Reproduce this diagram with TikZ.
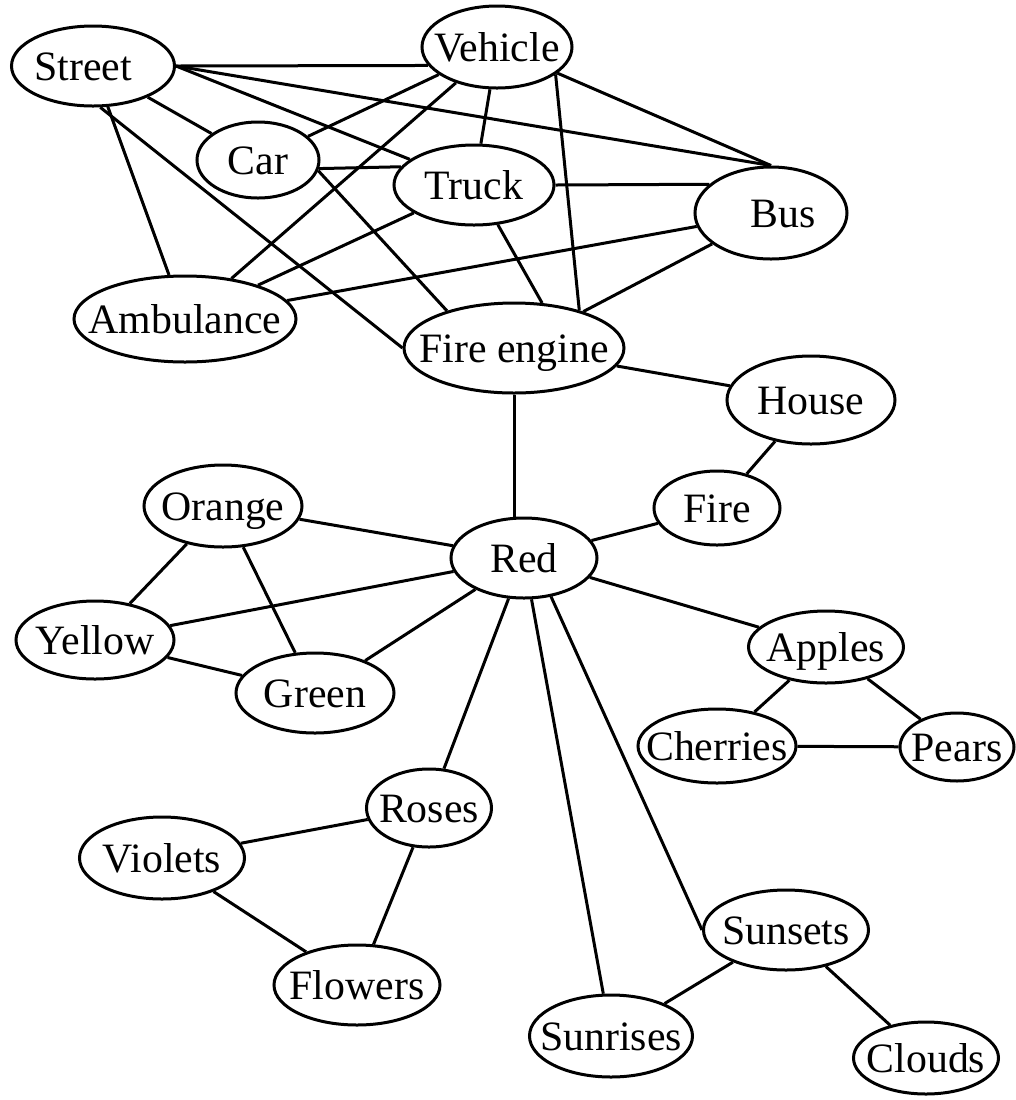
\documentclass[tikz,border=0pt]{standalone}
\usepackage{fontspec}
\setmainfont{Liberation Serif}
\usetikzlibrary{shapes.geometric}
\newcommand\ndtext[2][0]{\raisebox{-0.34em}[0pt][0pt]{\makebox[0pt]{\hspace*{#1pt}\hspace*{#1pt}#2}}}
\begin{document}
\begin{tikzpicture}[x=0.5pt,y=-0.5pt,
  nd/.style 2 args={ellipse,draw,line width=1.5pt,minimum width=#1*0.5pt,minimum height=#2*0.5pt,inner sep=0pt,font=\fontsize{20.9}{25}\selectfont},
  ed/.style={line width=1.5pt}]
\useasboundingbox (0,0) rectangle (1016,1100);
\node[nd={163}{80}] (street) at (93,66) {\ndtext[-5]{Street}};
\node[nd={150}{82}] (vehicle) at (497,47) {\ndtext{Vehicle}};
\node[nd={122}{76}] (car) at (258,160) {\ndtext{Car}};
\node[nd={160}{80}] (truck) at (474,185) {\ndtext{Truck}};
\node[nd={152}{92}] (bus) at (771,213) {\ndtext[6]{Bus}};
\node[nd={222}{86}] (amb) at (185,319) {\ndtext{Ambulance}};
\node[nd={220}{90}] (fireeng) at (514,348) {\ndtext{Fire engine}};
\node[nd={168}{88}] (house) at (811,400) {\ndtext{House}};
\node[nd={158}{82}] (orange) at (223,506) {\ndtext{Orange}};
\node[nd={146}{80}] (red) at (524,558) {\ndtext{Red}};
\node[nd={126}{74}] (fire) at (717,508) {\ndtext{Fire}};
\node[nd={158}{78}] (yellow) at (95,640) {\ndtext{Yellow}};
\node[nd={158}{80}] (green) at (315,693) {\ndtext{Green}};
\node[nd={155}{72}] (apples) at (826,647) {\ndtext{Apples}};
\node[nd={158}{74}] (cherries) at (717,746) {\ndtext{Cherries}};
\node[nd={114}{68}] (pears) at (957,747) {\ndtext{Pears}};
\node[nd={125}{78}] (roses) at (429,808) {\ndtext{Roses}};
\node[nd={165}{82}] (violets) at (162,858) {\ndtext{Violets}};
\node[nd={165}{80}] (sunsets) at (786,930) {\ndtext{Sunsets}};
\node[nd={166}{80}] (flowers) at (357,985) {\ndtext{Flowers}};
\node[nd={163}{82}] (sunrises) at (611,1036) {\ndtext{Sunrises}};
\node[nd={145}{72}] (clouds) at (926,1058) {\ndtext{Clouds}};
% Street
\draw[ed] (street.east) -- (vehicle.195);
\draw[ed] (street.east) -- (truck);
\draw[ed] (street.east) -- (bus.north);
\draw[ed] (street) -- (car);
\draw[ed] (street) -- (amb);
\draw[ed] (street.-80) -- (fireeng.west);
% Vehicle
\draw[ed] (vehicle) -- (car);
\draw[ed] (vehicle) -- (amb);
\draw[ed] (vehicle) -- (truck);
\draw[ed] (vehicle.-25) -- (fireeng.30);
\draw[ed] (vehicle) -- (bus.north);
% Car
\draw[ed] (car.-8) -- (truck.166);
\draw[ed] (car.-10) -- (fireeng.151);
% Truck
\draw[ed] (truck.east) -- (bus.155);
\draw[ed] (truck) -- (amb);
\draw[ed] (truck.-59) -- (fireeng.58);
% Bus
\draw[ed] (bus) -- (amb);
\draw[ed] (bus) -- (fireeng);
% Fire engine
\draw[ed] (fireeng) -- (house);
\draw[ed] (fireeng.south) -- (fireeng.south |- red.north);
\draw[ed] (house) -- (fire);
\draw[ed] (fire) -- (red);
% Red
\draw[ed] (red) -- (orange);
\draw[ed] (red) -- (yellow);
\draw[ed] (red) -- (green);
\draw[ed] (red) -- (apples);
\draw[ed] (red) -- (roses);
\draw[ed] (red) -- (sunrises);
\draw[ed] (red.-55) -- (sunsets.west);
% colours
\draw[ed] (orange) -- (yellow);
\draw[ed] (orange) -- (green);
\draw[ed] (yellow) -- (green);
% fruit
\draw[ed] (apples) -- (cherries);
\draw[ed] (apples) -- (pears);
\draw[ed] (cherries) -- (pears);
% flowers
\draw[ed] (roses) -- (violets);
\draw[ed] (roses) -- (flowers);
\draw[ed] (violets) -- (flowers);
% sky
\draw[ed] (sunsets) -- (sunrises);
\draw[ed] (sunsets) -- (clouds);
\end{tikzpicture}
\end{document}
